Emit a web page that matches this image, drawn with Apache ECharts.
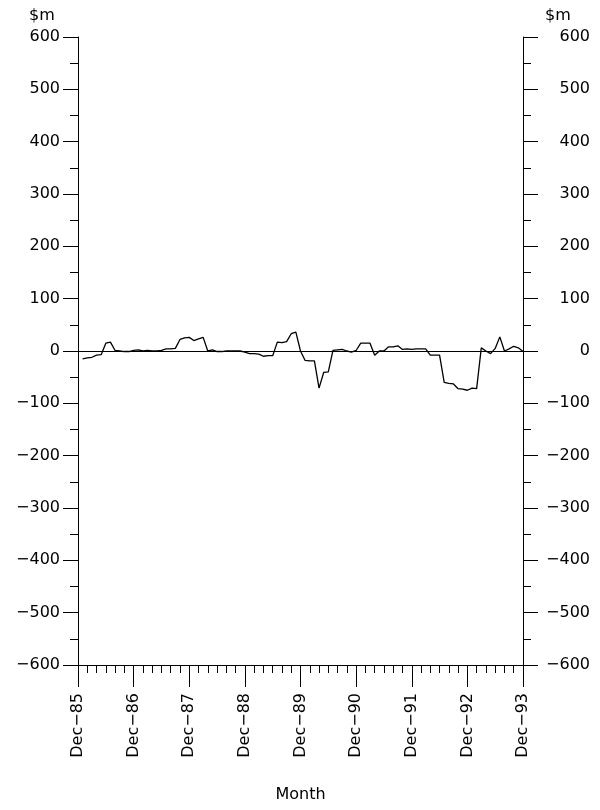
<!DOCTYPE html>
<html>
<head>
<meta charset="utf-8">
<script src="https://cdn.jsdelivr.net/npm/echarts@6/dist/echarts.min.js"></script>
<style>html,body{margin:0;padding:0;background:#fff}#c{width:600px;height:810px}</style>
</head>
<body>
<div id="c"></div>
<script>
// Month index (0 = Dec-85) and values in $m
const months = [1,2,3,4,5,6,7,8,9,10,11,12,13,14,15,16,17,18,19,20,21,22,23,24,25,26,27,28,29,30,31,32,
  33,34,35,36,37,38,39,40,41,42,43,44,45,46,47,48,49,50,51,52,53,54,55,56,57,58,59,60,61,62,63,64,
  65,66,67,68,69,70,71,72,73,74,75,76,77,78,79,80,81,82,83,84,85,86,87,88,89,90,91,92,93,94,95,96];
const values = [-15,-13,-12,-8,-7,15,17,1,0,-1,-1,1,2,0,1,0,0,1,4,4,5,22,25,26,20,23,26,0,2,-1,-1,0,
  0,0,0,-2,-5,-5,-6,-10,-9,-9,17,16,18,33,36,0,-18,-19,-19,-71,-41,-40,1,2,3,0,-2,1,15,15,15,-8,
  0,0,8,8,10,3,4,3,4,4,4,-8,-8,-8,-60,-62,-63,-72,-73,-75,-71,-72,6,0,-5,5,27,0,4,9,6,-1];
const yearLabels = ['Dec\u221285','Dec\u221286','Dec\u221287','Dec\u221288','Dec\u221289','Dec\u221290','Dec\u221291','Dec\u221292','Dec\u221293'];
const yTickValues = [-600,-500,-400,-300,-200,-100,0,100,200,300,400,500,600];

const data = months.map((m, i) => [m, values[i]]);
const FONT = 'DejaVu Sans';
const fmtY = v => v < 0 ? '\u2212' + (-v) : String(v);

const yBase = {
  type: 'value', min: yTickValues[0], max: yTickValues[yTickValues.length - 1], interval: 100,
  splitLine: { show: false },
  axisLine: { show: true, lineStyle: { color: '#000', width: 1 } },
  axisTick: { show: true, inside: false, length: 15, lineStyle: { color: '#000' } },
  minorTick: { show: true, splitNumber: 2, length: 8, lineStyle: { color: '#000' } },
  minorSplitLine: { show: false }
};

const chart = echarts.init(document.getElementById('c'), null, { renderer: 'canvas' });
chart.setOption({
  animation: false,
  backgroundColor: '#fff',
  grid: { left: 78, right: 77, top: 37, bottom: 145, containLabel: false },
  graphic: [
    { type: 'text', left: 29, top: 8, style: { text: '$m', font: '16px "DejaVu Sans"', fill: '#000' } },
    { type: 'text', left: 545, top: 8, style: { text: '$m', font: '16px "DejaVu Sans"', fill: '#000' } }
  ],
  xAxis: {
    type: 'value', min: 0, max: 96, interval: 12,
    name: 'Month', nameLocation: 'middle', nameGap: 122,
    nameTextStyle: { fontFamily: FONT, fontSize: 16, color: '#000' },
    splitLine: { show: false },
    axisLine: { show: true, onZero: false, lineStyle: { color: '#000', width: 1 } },
    axisTick: { show: true, length: 22, lineStyle: { color: '#000' } },
    minorTick: { show: true, splitNumber: 6, length: 8, lineStyle: { color: '#000' } },
    axisLabel: {
      rotate: 90, margin: 28, fontFamily: FONT, fontSize: 16, color: '#000',
      formatter: v => yearLabels[Math.round(v / 12)] || ''
    }
  },
  yAxis: [
    Object.assign({}, yBase, {
      position: 'left',
      axisLabel: { margin: 18, fontFamily: FONT, fontSize: 16, color: '#000', formatter: fmtY }
    }),
    Object.assign({}, yBase, {
      position: 'right',
      axisLabel: { margin: 67, align: 'right', fontFamily: FONT, fontSize: 16, color: '#000', formatter: fmtY }
    })
  ],
  series: [{
    type: 'line', data: data, yAxisIndex: 0, showSymbol: false, symbol: 'none',
    lineStyle: { color: '#000', width: 1.3 },
    markLine: {
      silent: true, symbol: 'none', label: { show: false },
      lineStyle: { color: '#000', width: 1, type: 'solid' },
      data: [{ yAxis: 0 }]
    }
  }]
});
</script>
</body>
</html>
